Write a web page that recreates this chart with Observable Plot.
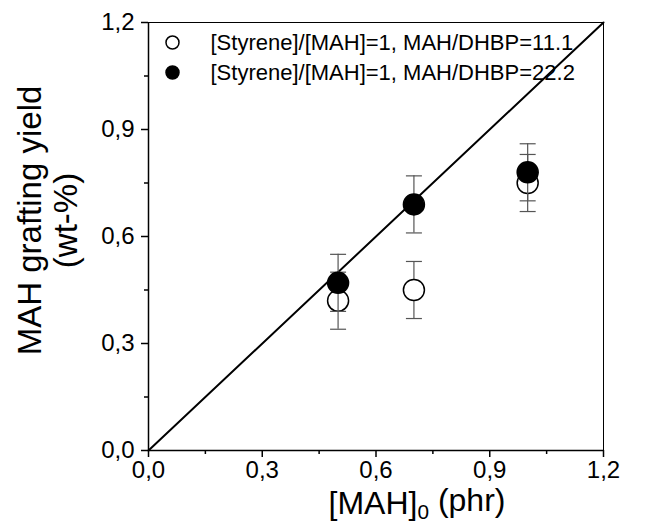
<!DOCTYPE html>
<html>
<head>
<meta charset="utf-8">
<script src="https://cdn.jsdelivr.net/npm/d3@7"></script>
<script src="https://cdn.jsdelivr.net/npm/@observablehq/plot@0.6"></script>
<style>
  html, body { margin: 0; padding: 0; background: #fff; }
  svg { font-family: "Liberation Sans", Arial, sans-serif; }
</style>
</head>
<body>
<div id="chart"></div>
<script>
// ---- data ----
const mahPhr = [0.5, 0.7, 1.0];
const yieldOpen = [0.42, 0.45, 0.75];
const errOpen = [0.08, 0.08, 0.08];
const yieldFilled = [0.47, 0.69, 0.78];
const errFilled = [0.08, 0.08, 0.08];
const seriesLabels = ["[Styrene]/[MAH]=1, MAH/DHBP=11.1", "[Styrene]/[MAH]=1, MAH/DHBP=22.2"];
const majorTicks = [0, 0.3, 0.6, 0.9, 1.2];
const minorTicks = [0.15, 0.45, 0.75, 1.05];
const diagonal = [0, 1.2];
const xTitle = "[MAH]0 (phr)";
const yTitle = "MAH grafting yield\n(wt-%)";

const openData = mahPhr.map((x, i) => ({x, y: yieldOpen[i], e: errOpen[i]}));
const filledData = mahPhr.map((x, i) => ({x, y: yieldFilled[i], e: errFilled[i]}));
const diagData = diagonal.map(v => ({x: v, y: v}));

const fmt = d => d.toFixed(1).replace(".", ",");
const capSymbol = {draw(ctx) { ctx.moveTo(-8, 0); ctx.lineTo(8, 0); }};
const errColor = "#555";

function errMarks(data) {
  return [
    Plot.ruleX(data, {x: "x", y1: d => d.y - d.e, y2: d => d.y + d.e, stroke: errColor, strokeWidth: 1.2}),
    Plot.dot(data, {x: "x", y: d => d.y - d.e, symbol: capSymbol, stroke: errColor, strokeWidth: 1.2, fill: "none"}),
    Plot.dot(data, {x: "x", y: d => d.y + d.e, symbol: capSymbol, stroke: errColor, strokeWidth: 1.2, fill: "none"})
  ];
}

const chart = Plot.plot({
  width: 648,
  height: 529,
  marginLeft: 148,
  marginRight: 45,
  marginTop: 22,
  marginBottom: 79,
  style: {fontFamily: "Liberation Sans, Arial, sans-serif", background: "#fff", overflow: "visible"},
  x: {domain: [0, 1.2]},
  y: {domain: [0, 1.2]},
  marks: [
    Plot.frame({stroke: "#000", strokeWidth: 1}),
    // major axes
    Plot.axisX({ticks: majorTicks, tickFormat: fmt, tickSize: 7, tickPadding: 3, fontSize: 24, label: null, strokeWidth: 1.5, color: "#000"}),
    Plot.axisY({ticks: majorTicks, tickFormat: fmt, tickSize: 7, tickPadding: 7, fontSize: 24, label: null, strokeWidth: 1.5, color: "#000"}),
    // minor ticks
    Plot.axisX({ticks: minorTicks, tickFormat: () => "", tickSize: 4, label: null, strokeWidth: 1.5, color: "#000"}),
    Plot.axisY({ticks: minorTicks, tickFormat: () => "", tickSize: 4, label: null, strokeWidth: 1.5, color: "#000"}),
    Plot.ruleY([0], {stroke: "#000", strokeWidth: 1.5}),
    Plot.ruleX([0], {stroke: "#000", strokeWidth: 1.5}),
    // diagonal
    Plot.line(diagData, {x: "x", y: "y", stroke: "#000", strokeWidth: 2}),
    // open series
    ...errMarks(openData),
    Plot.dot(openData, {x: "x", y: "y", r: 10.5, fill: "#fff", stroke: "#000", strokeWidth: 1.5}),
    // filled series
    ...errMarks(filledData),
    Plot.dot(filledData, {x: "x", y: "y", r: 10.5, fill: "#000", stroke: "#000", strokeWidth: 1.5}),
    // legend
    Plot.dot([seriesLabels[0]], {frameAnchor: "top-left", dx: 24, dy: 20, r: 6.5, fill: "#fff", stroke: "#000", strokeWidth: 1.5}),
    Plot.dot([seriesLabels[1]], {frameAnchor: "top-left", dx: 24, dy: 50, r: 6.5, fill: "#000", stroke: "#000", strokeWidth: 1.5}),
    Plot.text([seriesLabels[0]], {text: d => d, frameAnchor: "top-left", dx: 62, dy: 20, textAnchor: "start", lineAnchor: "middle", fontSize: 22, fill: "#000"}),
    Plot.text([seriesLabels[1]], {text: d => d, frameAnchor: "top-left", dx: 62, dy: 50, textAnchor: "start", lineAnchor: "middle", fontSize: 22, fill: "#000"}),
    // axis titles
    Plot.text([yTitle], {text: d => d, frameAnchor: "left", rotate: -90, dx: -101, dy: -16, textAnchor: "middle", lineHeight: 1.1, fontSize: 33, fill: "#000", lineAnchor: "middle", className: "ytitle"}),
    Plot.text([xTitle], {text: d => d, frameAnchor: "bottom", textAnchor: "middle", dx: 41, dy: 41, lineAnchor: "top", fontSize: 32, fill: "#000", className: "xtitle"})
  ]
});

document.getElementById("chart").appendChild(chart);

// subscript for x title: [MAH]0 -> [MAH]<sub>0</sub>
d3.select(chart).selectAll(".xtitle text").each(function() {
  const t = d3.select(this);
  const s = t.text();
  const m = s.match(/^(\[MAH\])(0)(.*)$/);
  if (!m) return;
  t.text(null);
  t.append("tspan").text(m[1]);
  t.append("tspan").attr("dy", "0.25em").attr("font-size", "0.65em").text(m[2]);
  t.append("tspan").attr("dy", "-0.25em").attr("font-size", "32px").text(m[3]);
});
</script>
</body>
</html>
